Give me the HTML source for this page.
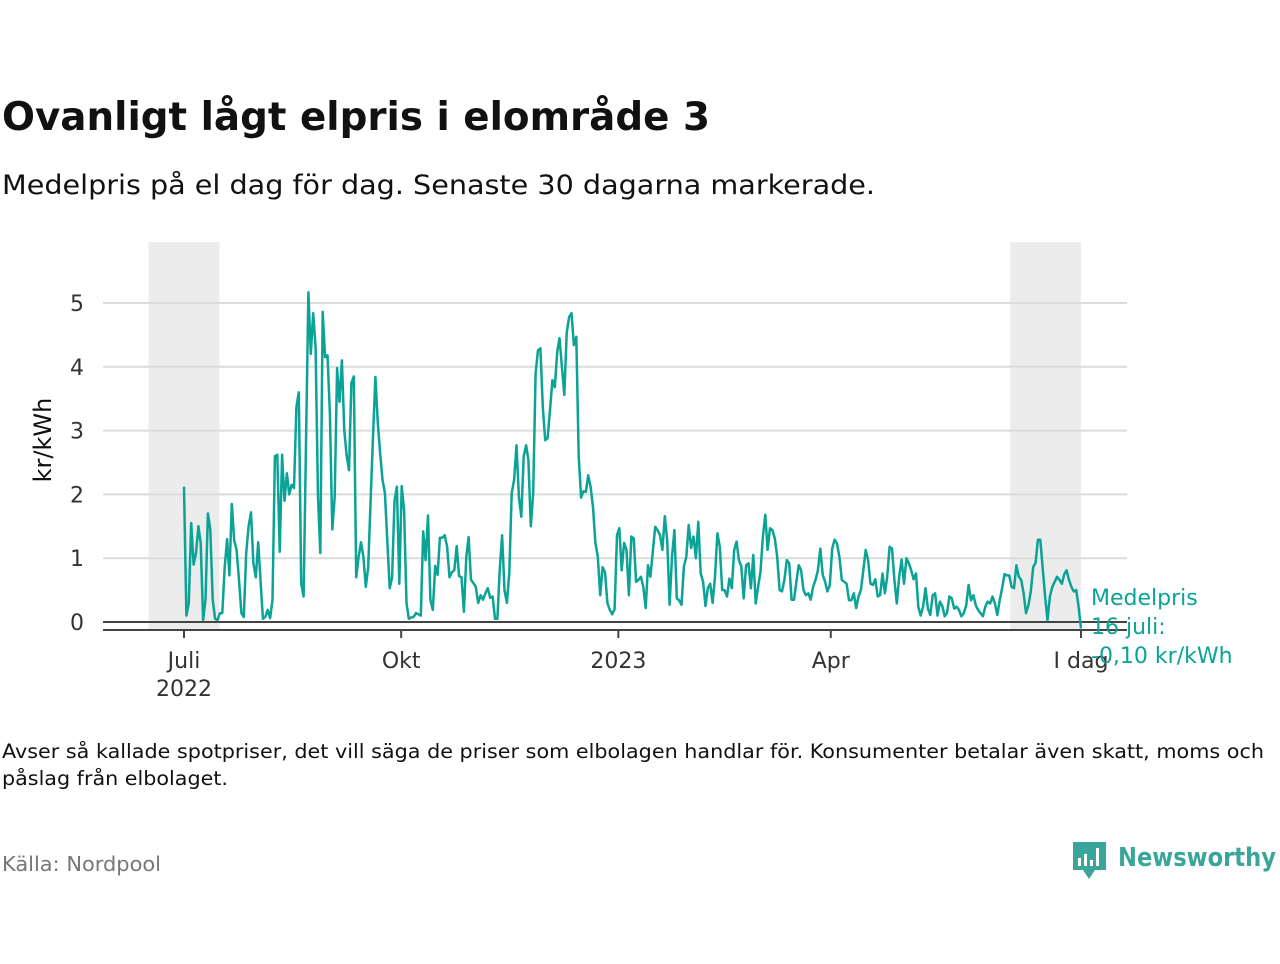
<!DOCTYPE html>
<html><head><meta charset="utf-8">
<style>
body{margin:0;background:#fff;width:1280px;height:960px;overflow:hidden;font-family:"DejaVu Sans","Liberation Sans",sans-serif;}
svg text{font-family:"DejaVu Sans","Liberation Sans",sans-serif;}
</style></head>
<body>
<svg id="chart" width="1280" height="960" viewBox="0 0 1280 960" xmlns="http://www.w3.org/2000/svg">
<text x="2" y="130" font-size="39" font-weight="bold" fill="#111" textLength="708" lengthAdjust="spacingAndGlyphs">Ovanligt lågt elpris i elområde 3</text>
<text x="2" y="194" font-size="27" fill="#111" textLength="873" lengthAdjust="spacingAndGlyphs">Medelpris på el dag för dag.  Senaste 30 dagarna markerade.</text>
<g id="plot"></g>
<text x="2" y="758" font-size="19.5" fill="#111" textLength="1262" lengthAdjust="spacingAndGlyphs">Avser så kallade spotpriser, det vill säga de priser som elbolagen handlar för. Konsumenter betalar även skatt, moms och</text>
<text x="2" y="785" font-size="19.5" fill="#111" textLength="226" lengthAdjust="spacingAndGlyphs">påslag från elbolaget.</text>
<text x="2" y="871" font-size="20" fill="#777" textLength="159" lengthAdjust="spacingAndGlyphs">Källa: Nordpool</text>
<g>
<path d="M1073 842 h33 v28 h-11 l-6 9 l-6 -9 h-10 z" fill="#3aa59a"/>
<rect x="1078" y="858" width="3" height="8" fill="#fff"/><rect x="1084" y="854" width="3" height="12" fill="#fff"/><rect x="1090" y="860" width="3" height="6" fill="#fff"/><rect x="1096" y="848" width="3" height="18" fill="#fff"/>
<text x="1118" y="866" font-size="26" font-weight="bold" fill="#3aa59a" textLength="158" lengthAdjust="spacingAndGlyphs">Newsworthy</text>
</g>
</svg>
<script>
const values = [2.12,0.1,0.3,1.55,0.9,1.08,1.5,1.24,0.03,0.35,1.7,1.45,0.35,0.05,0.03,0.14,0.14,0.86,1.3,0.73,1.85,1.28,1.13,0.66,0.14,0.08,1.08,1.5,1.72,0.92,0.7,1.25,0.66,0.05,0.08,0.19,0.06,0.35,2.6,2.62,1.1,2.62,1.9,2.33,2.0,2.15,2.1,3.37,3.6,0.6,0.4,2.8,5.17,4.2,4.84,4.3,1.96,1.08,4.86,4.15,4.18,
3.27,1.45,1.96,3.98,3.45,4.1,3.0,2.6,2.38,3.75,3.85,0.7,1.02,1.25,1.02,0.55,0.86,1.9,2.9,3.84,3.12,2.65,2.23,2.02,1.28,0.53,0.7,1.9,2.12,0.6,2.13,1.75,0.3,0.05,0.07,0.08,0.14,0.12,0.1,1.42,0.97,1.67,0.35,0.19,0.88,0.74,1.32,1.32,1.36,1.18,0.7,0.78,0.81,1.19,0.72,0.7,0.16,1.02,1.33,0.66,0.61,0.55,0.3,0.42,
0.35,0.45,0.53,0.38,0.4,0.05,0.05,0.81,1.36,0.5,0.3,0.77,2.02,2.23,2.77,1.96,1.65,2.6,2.77,2.54,1.5,2.02,3.9,4.26,4.29,3.37,2.85,2.88,3.32,3.79,3.68,4.23,4.45,4.0,3.56,4.53,4.78,4.84,4.34,4.47,2.6,1.95,2.05,2.04,2.3,2.12,1.8,1.24,1.02,0.42,0.86,0.78,0.3,0.19,0.12,0.2,1.36,1.47,0.81,1.24,1.13,
0.42,1.34,1.31,0.63,0.66,0.71,0.55,0.22,0.89,0.71,1.1,1.49,1.44,1.36,1.13,1.66,1.28,0.27,1.02,1.44,0.37,0.34,0.27,0.87,1.02,1.52,1.16,1.34,1.0,1.57,0.76,0.63,0.25,0.53,0.6,0.3,0.71,1.39,1.18,0.5,0.5,0.4,0.68,0.53,1.13,1.26,0.97,0.87,0.37,0.89,0.92,0.53,1.05,0.29,0.55,0.79,1.34,1.68,1.13,1.47,1.44,1.31,1.02,0.5,
0.48,0.66,0.97,0.92,0.35,0.35,0.63,0.89,0.81,0.5,0.42,0.45,0.35,0.55,0.66,0.81,1.15,0.74,0.63,0.48,0.58,1.15,1.29,1.23,1.02,0.66,0.63,0.6,0.34,0.34,0.45,0.22,0.4,0.5,0.81,1.13,0.97,0.6,0.58,0.67,0.4,0.42,0.76,0.45,0.71,1.18,1.15,0.66,0.29,0.71,0.98,0.6,1.0,0.92,0.81,0.67,0.76,0.24,0.1,0.24,0.53,0.21,0.11,
0.42,0.45,0.1,0.32,0.25,0.09,0.14,0.4,0.37,0.21,0.24,0.19,0.09,0.14,0.26,0.58,0.34,0.42,0.26,0.19,0.14,0.09,0.24,0.32,0.29,0.4,0.29,0.11,0.34,0.53,0.75,0.73,0.73,0.55,0.53,0.89,0.71,0.66,0.45,0.14,0.26,0.48,0.86,0.93,1.29,1.29,0.84,0.4,0.03,0.4,0.55,0.63,0.71,0.66,0.6,0.75,0.81,0.66,0.55,0.48,0.5,0.24,-0.1];
const totalDays = 380; // 1 Jul 2022 .. 16 Jul 2023
const yTicks = [0,1,2,3,4,5];
const xTickDays = [0,92,184,274,380];
const xTickLabels = ["Juli","Okt","2023","Apr","I dag"];
const shadeRanges = [[-15,15],[350,380]];

const NS="http://www.w3.org/2000/svg";
const g=document.getElementById('plot');
const x0=184, pxPerDay=(1081-184)/380;
const xDay=d=>x0+d*pxPerDay;
const xIdx=i=>xDay(i*totalDays/(values.length-1));
const y=v=>622-v*63.8;
function mk(tag,attrs,parent){const e=document.createElementNS(NS,tag);for(const k in attrs)e.setAttribute(k,attrs[k]);(parent||g).appendChild(e);return e;}
shadeRanges.forEach(r=>{
  const e=mk('rect',{x:xDay(r[0]),y:242,width:xDay(r[1])-xDay(r[0]),height:388,fill:'#ececec'});
  
  
});
yTicks.forEach(t=>{
  if(t>0){const l=mk('line',{x1:103,x2:1127,y1:y(t),y2:y(t),stroke:'#dcdcdc','stroke-width':2});
  
  }
  const tx=mk('text',{x:84,y:y(t)+8,'text-anchor':'end','font-size':22,fill:'#333'});
  tx.textContent=t;
  
  
});
const zl=mk('line',{x1:103,x2:1127,y1:y(0),y2:y(0),stroke:'#444','stroke-width':2});


const ax=mk('line',{x1:103,x2:1127,y1:630,y2:630,stroke:'#444','stroke-width':2});


xTickDays.forEach((d,i)=>{
  const tk=mk('line',{x1:xDay(d),x2:xDay(d),y1:630,y2:638,stroke:'#444','stroke-width':2});
  
  
  const tx=mk('text',{x:xDay(d),y:668,'text-anchor':'middle','font-size':22,fill:'#333'});
  tx.textContent=xTickLabels[i];
  
  
});
const yr=mk('text',{x:xDay(0),y:696,'text-anchor':'middle','font-size':22,fill:'#333'});
yr.textContent='2022';


const yt=mk('text',{x:0,y:0,'text-anchor':'middle','font-size':24,fill:'#111',transform:'translate(51,440) rotate(-90)'});
yt.textContent='kr/kWh';


const line=mk('path',{d:values.map((v,i)=>(i?'L':'M')+xIdx(i).toFixed(1)+' '+y(v).toFixed(1)).join(' '),fill:'none',stroke:'#0aa396','stroke-width':2.5,'stroke-linejoin':'round'});


const ann=mk('text',{x:1091,y:605,'font-size':22,fill:'#0aa396'});


["Medelpris","16 juli:","-0,10 kr/kWh"].forEach((s,i)=>{const ts=mk('tspan',{x:1091,dy:i?29:0},ann);ts.textContent=s;});
</script>
</body></html>
